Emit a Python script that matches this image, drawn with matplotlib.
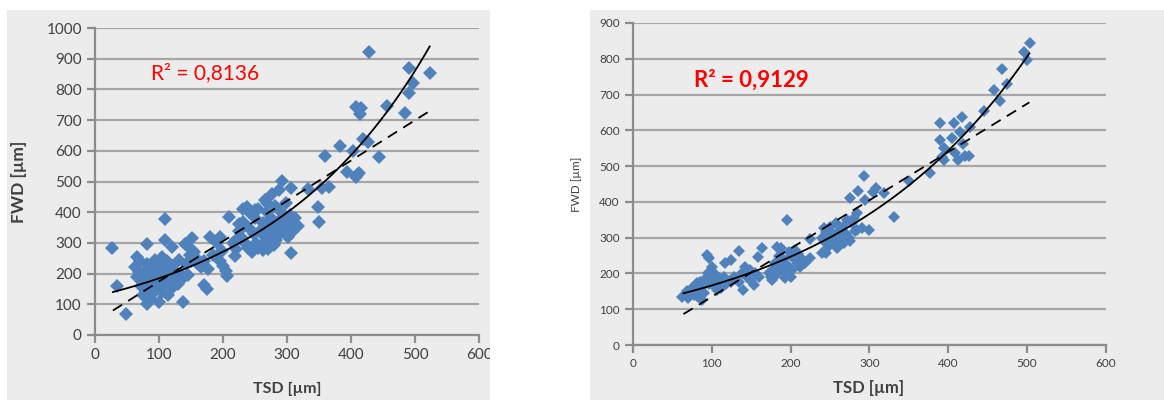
import matplotlib
matplotlib.use("Agg")
import matplotlib.pyplot as plt
from matplotlib.patches import Rectangle
import numpy as np

plt.rcParams["font.family"] = ["Lato", "DejaVu Sans"]

# left panel: TSD / FWD pairs
tsd_a = [27, 34, 48, 66, 82, 110, 109, 120, 140, 151, 138, 100, 82, 151, 171, 175, 177, 180,
         195, 206, 210, 219, 239, 237, 232, 250, 268, 263, 279, 292, 287, 307, 307, 299, 317,
         333, 349, 350, 359, 354, 365, 383, 393, 403, 409, 408, 412, 408, 415, 414, 419, 427,
         428, 444, 456, 484, 490, 490, 497, 523,
         62, 65, 68, 70, 72, 74, 75, 78, 80, 82, 85, 86, 88, 90, 92, 94, 95, 96, 98, 100, 102,
         104, 105, 106, 108, 110, 112, 114, 116, 118, 120, 122, 125, 128, 130, 132, 135, 138,
         142, 145, 148, 150, 155, 158, 160, 165, 170, 185, 190, 195, 200, 205, 198, 215, 220,
         225,
         240, 245, 248, 250, 252, 255, 258, 260, 262, 265, 268, 270, 272, 275, 278, 280, 282,
         285, 288, 290, 292, 295, 298, 300, 302, 305, 308, 310, 312, 235, 228, 225, 220, 245,
         255, 270, 283, 265, 276, 240, 232]
fwd_a = [282, 160, 70, 255, 298, 378, 310, 288, 295, 317, 107, 108, 100, 277, 163, 149, 214, 318,
         318, 192, 385, 257, 282, 418, 369, 407, 429, 277, 293, 502, 472, 478, 266, 342, 355,
         474, 418, 369, 583, 478, 483, 617, 532, 599, 521, 516, 529, 742, 738, 720, 637, 630,
         923, 581, 746, 722, 869, 787, 820, 852,
         220, 190, 205, 240, 160, 180, 130, 210, 150, 230, 190, 120, 170, 215, 140, 245, 185,
         160, 205, 230, 175, 255, 140, 195, 215, 165, 240, 130, 200, 180, 225, 155, 210, 190,
         165, 245, 200, 185, 230, 195, 260, 240, 270, 250, 235, 220, 240, 260, 300, 240, 225,
         210, 275, 300, 280, 340,
         350, 395, 330, 380, 300, 410, 340, 290, 365, 320, 400, 350, 310, 380, 340, 300, 420,
         360, 330, 400, 380, 350, 430, 360, 320, 390, 370, 340, 380, 300, 320, 360, 310, 270,
         285, 280, 310, 440, 460, 400, 410]

# right panel
tsd_b = [62, 73, 81, 88, 94, 96, 100, 107, 117, 124, 135, 140, 142, 153, 159, 164, 176, 183,
         195, 193, 200, 208, 212, 225, 225, 240, 242, 245, 259, 267, 275, 276, 284, 284, 286,
         291, 293, 295, 300, 305, 309, 318, 331, 350, 377, 390, 390, 392, 395, 395, 405, 408,
         409, 412, 415, 417, 419, 421, 426, 428, 445, 458, 466, 468, 474, 496, 500, 504,
         68, 70, 75, 78, 80, 83, 85, 86, 90, 92, 95, 97, 98, 100, 102, 103, 105, 108, 110, 112,
         115, 118, 120, 125, 128, 130, 135, 138, 145, 148, 150, 155, 160,
         172, 175, 178, 180, 182, 185, 187, 188, 190, 192, 195, 198, 200, 202, 205, 208, 210,
         215, 218,
         240, 243, 245, 247, 248, 250, 252, 254, 256, 258, 260, 262, 264, 266, 268, 270, 272,
         274, 278, 280, 282]
fwd_b = [135, 144, 172, 126, 252, 242, 219, 154, 228, 238, 264, 154, 219, 168, 247, 270, 182, 275,
         348, 186, 191, 228, 219, 242, 295, 256, 326, 258, 270, 303, 292, 410, 321, 370, 431,
         326, 472, 405, 321, 429, 438, 424, 359, 458, 480, 620, 573, 526, 550, 517, 578, 621,
         536, 517, 596, 638, 563, 528, 528, 610, 654, 713, 683, 771, 729, 818, 797, 845,
         150, 130, 160, 140, 155, 135, 175, 160, 145, 185, 200, 170, 190, 205, 180, 165, 195,
         175, 185, 160, 190, 170, 180, 175, 190, 185, 175, 200, 190, 210, 180, 200, 190,
         200, 190, 210, 230, 195, 250, 215, 270, 240, 205, 225, 260, 250, 210, 265, 235, 255,
         240, 230,
         300, 290, 315, 275, 300, 330, 285, 310, 295, 340, 275, 320, 300, 330, 285, 310, 350,
         300, 340, 355, 320]

# trend lines: exponential a*exp(b*x), linear m*x + c, x range
exp_a = [125.7, 112.2]
exp_b = [0.003847, 0.003942]
lin_m = [1.313, 1.348]
lin_c = [43.0, 0.1]
trend_x0 = [28, 64]
trend_x1 = [523, 503]

r2_labels = ["R² = 0,8136", "R² = 0,9129"]
y_max = [1000, 900]

panel_grey = "#ececec"
grid_grey = "#a6a6a6"
text_grey = "#404040"
blue = "#4f81bd"

fig = plt.figure(figsize=(11.64, 4.0), dpi=100)
fig.patches.append(Rectangle((7 / 1164, 0), 483 / 1164, 390 / 400, transform=fig.transFigure,
                             facecolor=panel_grey, edgecolor="none", zorder=-10))
fig.patches.append(Rectangle((590 / 1164, 0), 574 / 1164, 390 / 400, transform=fig.transFigure,
                             facecolor=panel_grey, edgecolor="none", zorder=-10))

ax1 = fig.add_axes([0.0816, 0.1625, 0.3299, 0.7675])
ax2 = fig.add_axes([0.5438, 0.1375, 0.4062, 0.805])

setups = [
    (ax1, tsd_a, fwd_a, 7.6, 11, 12.5, "bold", 0.146, 0.853, 15, "normal",
     (-0.177, 0.5), (0.5, -0.153), 11.5),
    (ax2, tsd_b, fwd_b, 6.6, 8.5, 8.5, "normal", 0.129, 0.823, 16, "bold",
     (-0.108, 0.5), (0.499, -0.109), 12),
]

for i, (ax, xs, ys, ms, tick_fs, ylab_fs, ylab_w, tx, ty, r2_fs, r2_w,
        ylab_pos, xlab_pos, xlab_fs) in enumerate(setups):
    ax.set_facecolor(panel_grey)
    ax.plot(xs, ys, linestyle="none", marker="D", markersize=ms, color=blue,
            markeredgewidth=0, zorder=3)

    xfit = np.linspace(trend_x0[i], trend_x1[i], 200)
    ax.plot(xfit, exp_a[i] * np.exp(exp_b[i] * xfit), color="black", lw=1.3, zorder=4)
    ax.plot(xfit, lin_m[i] * xfit + lin_c[i], color="black", lw=1.3, dashes=(6, 4), zorder=4)

    ax.set_xlim(0, 600)
    ax.set_ylim(0, y_max[i])
    ax.set_xticks(np.arange(0, 601, 100))
    ax.set_yticks(np.arange(0, y_max[i] + 1, 100))
    ax.grid(axis="y", color=grid_grey, lw=1.6, zorder=0)
    ax.set_axisbelow(True)
    for s in ["top", "right"]:
        ax.spines[s].set_visible(False)
    for s in ["left", "bottom"]:
        ax.spines[s].set_color("#8c8c8c")
        ax.spines[s].set_linewidth(1.6)
    ax.tick_params(colors="#8c8c8c", width=1.6, length=6, labelcolor=text_grey,
                   labelsize=tick_fs)
    ax.set_ylabel("FWD [µm]", fontsize=ylab_fs, fontweight=ylab_w, color=text_grey)
    ax.yaxis.set_label_coords(*ylab_pos)
    ax.set_xlabel("TSD [µm]", fontsize=xlab_fs, fontweight="bold", color=text_grey)
    ax.xaxis.set_label_coords(*xlab_pos)
    ax.text(tx, ty, r2_labels[i], transform=ax.transAxes, color="#ff0000",
            fontsize=r2_fs, fontweight=r2_w, va="center", ha="left", zorder=5)

# white strip right of the left panel hides the clipped "600" label
fig.add_artist(Rectangle((490 / 1164, 0), 50 / 1164, 1, transform=fig.transFigure,
                         facecolor="white", edgecolor="none", zorder=10))

fig.savefig("out.png", dpi=100, facecolor="white")
